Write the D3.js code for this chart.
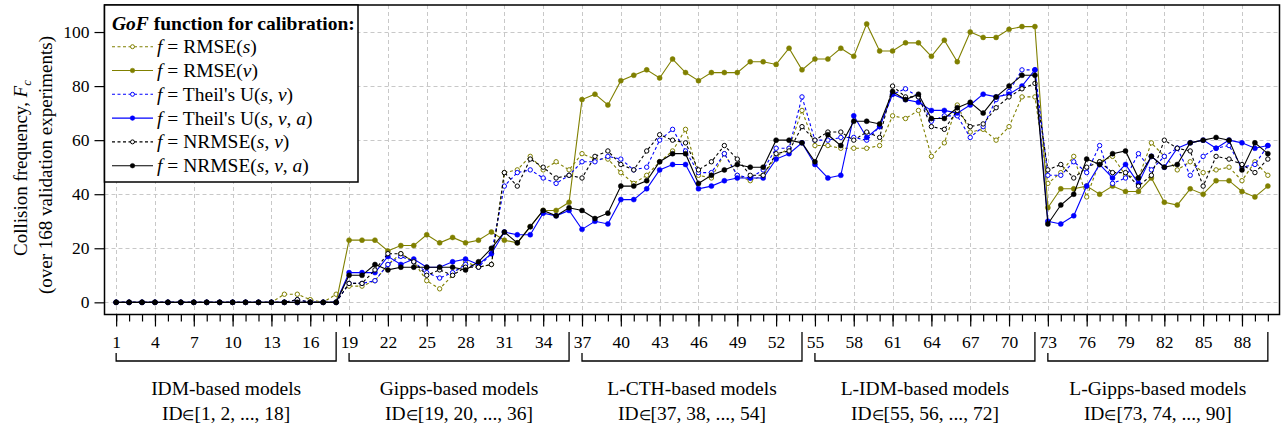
<!DOCTYPE html>
<html>
<head>
<meta charset="utf-8">
<script src="https://cdn.jsdelivr.net/npm/d3@7/dist/d3.min.js"></script>
<style>
  body { margin: 0; background: #fff; }
  text { font-family: "Liberation Serif", "Times New Roman", serif; fill: #000; }
</style>
</head>
<body>
<svg id="chart" width="1281" height="428"></svg>
<script>
// Model IDs on the x axis
const ids = d3.range(1, 91);

// Collision frequency per GoF function
const rmseS = [0,0,0,0,0,0,0,0,0,0,0,0,0,3,3,1,0,3,
  6,6,8,14,18,15,8,5,10,15,13,14,48,49,54,49,52,49,
  55,53,53,48,44,47,52,56,64,47,46,55,47,45,47,54,57,71,
  58,58,57,57,57,58,69,68,71,54,59,73,63,64,60,65,76,76,
  44,48,54,39,52,54,47,46,59,54,49,52,48,49,50,45,52,47];
const rmseV = [0,0,0,0,0,0,0,0,0,0,0,0,0,0,0,0,0,0,
  23,23,23,19,21,21,25,22,24,22,23,26,23,22,28,34,34,37,
  75,77,73,82,84,86,83,90,85,82,85,85,85,89,89,88,94,86,
  90,90,94,91,103,93,93,96,96,91,97,89,100,98,98,101,102,102,
  35,42,42,43,40,43,41,41,46,37,36,42,40,45,45,41,39,43];
const theilSV = [0,0,0,0,0,0,0,0,0,0,0,0,0,0,1,0,0,0,
  7,7,8,14,17,15,11,9,11,14,13,18,43,48,49,46,44,47,
  52,52,54,53,49,50,60,64,56,48,48,55,47,46,49,57,57,76,
  60,60,61,61,60,65,77,79,76,67,69,69,61,65,75,78,86,86,
  47,47,52,48,58,44,46,55,49,54,57,47,54,57,58,50,51,58];
const theilSVA = [0,0,0,0,0,0,0,0,0,0,0,0,0,0,0,0,0,0,
  11,11,11,17,14,16,13,13,15,16,14,18,26,25,25,33,32,34,
  27,30,29,38,38,42,49,51,51,42,43,45,46,46,46,53,55,59,
  51,46,47,69,61,65,77,75,74,71,71,70,73,77,76,77,80,86,
  30,29,32,43,51,46,51,44,54,50,57,59,60,57,60,59,57,58];
const nrmseSV = [0,0,0,0,0,0,0,0,0,0,0,0,0,0,1,0,0,0,
  7,7,12,18,18,15,10,12,10,13,13,14,48,43,53,50,46,47,
  46,54,56,51,49,56,62,60,59,49,52,58,53,47,47,55,56,65,
  60,63,63,60,63,61,80,76,76,65,64,71,65,66,72,76,79,81,
  49,51,46,50,52,48,48,43,47,60,57,56,43,54,53,51,48,53];
const nrmseSVA = [0,0,0,0,0,0,0,0,0,0,0,0,0,0,0,0,0,0,
  10,10,14,12,13,13,13,13,13,12,15,20,26,22,28,34,32,35,
  34,31,33,43,43,45,52,55,55,44,47,49,51,50,50,60,60,59,
  52,62,58,67,67,66,78,75,77,68,68,72,74,70,76,80,84,84,
  29,36,40,53,51,55,56,46,54,50,51,59,60,61,60,49,59,55];

// legend labels: [text, italic?] pieces
const seriesLabels = [
  [["f", 1], [" = RMSE(", 0], ["s", 1], [")", 0]],
  [["f", 1], [" = RMSE(", 0], ["v", 1], [")", 0]],
  [["f", 1], [" = Theil's U(", 0], ["s", 1], [", ", 0], ["v", 1], [")", 0]],
  [["f", 1], [" = Theil's U(", 0], ["s", 1], [", ", 0], ["v", 1], [", ", 0], ["a", 1], [")", 0]],
  [["f", 1], [" = NRMSE(", 0], ["s", 1], [", ", 0], ["v", 1], [")", 0]],
  [["f", 1], [" = NRMSE(", 0], ["s", 1], [", ", 0], ["v", 1], [", ", 0], ["a", 1], [")", 0]]
];

const groupNames = ["IDM-based models", "Gipps-based models", "L-CTH-based models",
  "L-IDM-based models", "L-Gipps-based models"];
const groupStarts = [1, 19, 37, 55, 73];
const groupEnds = [18, 36, 54, 72, 90];

const xTicks = d3.range(1, 90, 3);
const yTicks = [0, 20, 40, 60, 80, 100];

const colors = ["#808000", "#808000", "#0000ff", "#0000ff", "#000000", "#000000"];
const dashed = [true, false, true, false, true, false];
const allSeries = [rmseS, rmseV, theilSV, theilSVA, nrmseSV, nrmseSVA];

const svg = d3.select("#chart");
const L = 104.5, R = 1279.5, T = 5, B = 314.5;

const x = d3.scaleLinear().domain([0.1, 90.9]).range([L, R]);
const y = d3.scaleLinear().domain([-4.5, 110]).range([B, T]);

// grid
const grid = svg.append("g").attr("stroke", "#c8c8c8").attr("stroke-width", 1)
  .attr("stroke-dasharray", "4,3");
grid.selectAll(".gx").data(xTicks).enter().append("line")
  .attr("x1", d => Math.round(x(d)) + 0.5).attr("x2", d => Math.round(x(d)) + 0.5)
  .attr("y1", T).attr("y2", B);
grid.selectAll(".gy").data(yTicks).enter().append("line")
  .attr("x1", L).attr("x2", R)
  .attr("y1", d => Math.round(y(d)) + 0.5).attr("y2", d => Math.round(y(d)) + 0.5);

// y axis
const yAxis = svg.append("g").attr("transform", `translate(${L},0)`)
  .call(d3.axisLeft(y).tickValues(yTicks).tickSize(10).tickPadding(5));
yAxis.select(".domain").remove();
yAxis.selectAll("text").style("font-size", "17.5px").style("font-family", "Liberation Serif");
yAxis.selectAll("line").attr("stroke-width", 1.2);

// x axis: minor ticks at every ID, longer labelled ticks every third
const xMinor = svg.append("g").attr("transform", `translate(0,${B})`)
  .call(d3.axisBottom(x).tickValues(ids).tickSize(7).tickFormat(""));
xMinor.select(".domain").remove();
const xMajor = svg.append("g").attr("transform", `translate(0,${B})`)
  .call(d3.axisBottom(x).tickValues(xTicks).tickSize(12).tickFormat(d3.format("d")));
xMajor.select(".domain").remove();
xMajor.selectAll("text").attr("y", 21).style("font-size", "17.5px").style("font-family", "Liberation Serif");
svg.selectAll(".tick line").attr("stroke-width", 1.2);

// series lines and markers
const line = d3.line().x((d, i) => x(ids[i])).y(d => y(d));
allSeries.forEach((vals, k) => {
  const g = svg.append("g");
  g.append("path").datum(vals)
    .attr("d", line).attr("fill", "none")
    .attr("stroke", colors[k]).attr("stroke-width", 1.1)
    .attr("stroke-dasharray", dashed[k] ? "3,2.5" : null);
  g.selectAll("circle").data(vals).enter().append("circle")
    .attr("cx", (d, i) => x(ids[i])).attr("cy", d => y(d))
    .attr("r", dashed[k] ? 2.2 : 2.5)
    .attr("fill", dashed[k] ? "#fff" : colors[k])
    .attr("stroke", colors[k]).attr("stroke-width", dashed[k] ? 1 : 0.5);
});

// frame
svg.append("rect").attr("x", L).attr("y", T).attr("width", R - L).attr("height", B - T)
  .attr("fill", "none").attr("stroke", "#000").attr("stroke-width", 1.5);

// legend
const leg = svg.append("g");
leg.append("rect").attr("x", L).attr("y", T).attr("width", 253.5).attr("height", 177)
  .attr("fill", "#fff").attr("stroke", "#000").attr("stroke-width", 1.5);
const title = leg.append("text").attr("x", 112).attr("y", 29.5)
  .style("font-size", "19.5px").style("font-weight", "bold");
title.append("tspan").style("font-style", "italic").text("GoF");
title.append("tspan").text(" function for calibration:");
seriesLabels.forEach((parts, k) => {
  const cy = 46.7 + k * 23.8;
  leg.append("line").attr("x1", 112).attr("x2", 153).attr("y1", cy).attr("y2", cy)
    .attr("stroke", colors[k]).attr("stroke-width", 1.1)
    .attr("stroke-dasharray", dashed[k] ? "3,2.5" : null);
  leg.append("circle").attr("cx", 132.5).attr("cy", cy).attr("r", dashed[k] ? 2 : 2.3)
    .attr("fill", dashed[k] ? "#fff" : colors[k]).attr("stroke", colors[k])
    .attr("stroke-width", dashed[k] ? 1 : 0.5);
  const t = leg.append("text").attr("x", 157).attr("y", cy + 6.5).style("font-size", "19.5px");
  parts.forEach(p => t.append("tspan").style("font-style", p[1] ? "italic" : null).text(p[0]));
});

// y label
const yl1 = svg.append("text").attr("transform", "translate(27,168) rotate(-90)")
  .attr("text-anchor", "middle").style("font-size", "19px");
yl1.append("tspan").text("Collision frequency, ");
yl1.append("tspan").style("font-style", "italic").text("F");
yl1.append("tspan").style("font-style", "italic").style("font-size", "13px").attr("dy", 4).text("c");
svg.append("text").attr("transform", "translate(52,165) rotate(-90)")
  .attr("text-anchor", "middle").style("font-size", "19px")
  .text("(over 168 validation experiments)");

// group brackets and labels
groupStarts.forEach((s, k) => {
  const x0 = x(s), x1 = x(groupEnds[k]);
  svg.append("path")
    .attr("d", `M${x0},353V361H${x1}V332`)
    .attr("fill", "none").attr("stroke", "#000").attr("stroke-width", 1.3);
  const cx = (x0 + x1) / 2;
  svg.append("text").attr("x", cx).attr("y", 395).attr("text-anchor", "middle")
    .style("font-size", "19.5px").text(groupNames[k]);
  const t2 = svg.append("text").attr("x", cx).attr("y", 420).attr("text-anchor", "middle")
    .style("font-size", "19.5px");
  t2.append("tspan").text("ID");
  t2.append("tspan").style("font-size", "14px").text("\u2208");
  t2.append("tspan").text(`[${s}, ${s + 1}, ..., ${groupEnds[k]}]`);
});
</script>
</body>
</html>
